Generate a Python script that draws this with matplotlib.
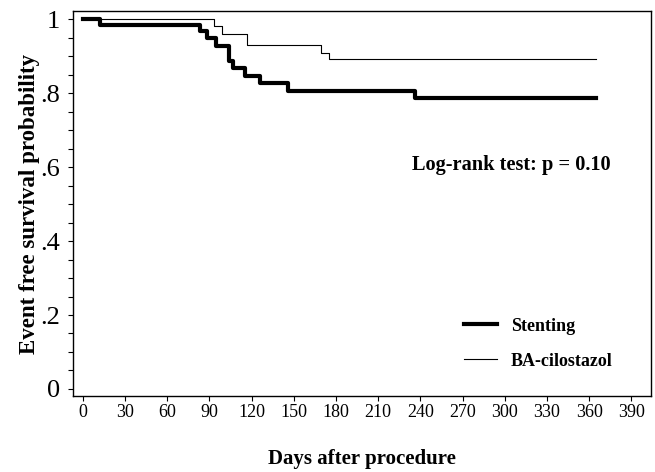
import matplotlib
matplotlib.use("Agg")
import matplotlib.pyplot as plt
from matplotlib.ticker import MultipleLocator

# Data
stent_days = [0, 12, 83, 88, 95, 104, 107, 115, 126, 146, 236, 365]
stent_surv = [1.0, 0.985, 0.967, 0.948, 0.927, 0.886, 0.868, 0.846, 0.826, 0.806, 0.787, 0.787]
cilo_days = [0, 93, 99, 117, 169, 175, 365]
cilo_surv = [1.0, 0.981, 0.961, 0.929, 0.909, 0.891, 0.891]
legend_labels = ["Stenting", "BA-cilostazol"]
x_ticks = list(range(0, 391, 30))
y_ticks = [0, 0.2, 0.4, 0.6, 0.8, 1.0]
y_tick_labels = ["0", ".2", ".4", ".6", ".8", "1"]
annotation = "Log-rank test: p = 0.10"

plt.rcParams['font.family'] = ['Liberation Serif', 'DejaVu Serif']

fig = plt.figure(figsize=(6.55, 4.72), dpi=100)
ax = fig.add_axes([73/655, 1-396/472, (651-73)/655, (396-11)/472])

ax.step(stent_days, stent_surv, where='post', color='black', lw=3.0, label=legend_labels[0])
ax.step(cilo_days, cilo_surv, where='post', color='black', lw=0.8, label=legend_labels[1])

ax.set_xlim(-7, 404)
ax.set_ylim(-0.019, 1.022)
ax.set_xticks(x_ticks)
ax.set_xticklabels([str(t) for t in x_ticks], fontsize=13)
ax.set_yticks(y_ticks)
ax.set_yticklabels(y_tick_labels, fontsize=19)
ax.yaxis.set_minor_locator(MultipleLocator(0.05))
ax.tick_params(axis='both', which='both', direction='out', length=3.5, width=0.8)
ax.tick_params(axis='x', pad=2)
ax.tick_params(axis='y', pad=6)
for s in ax.spines.values():
    s.set_linewidth(1.0)

ax.set_xlabel("Days after procedure", fontsize=15, fontweight='bold', labelpad=20.5)
ax.set_ylabel("Event free survival probability", fontsize=16.5, fontweight='bold', labelpad=0)

ax.text(234, 0.606, annotation, fontsize=14.7, fontweight='bold', va='center', ha='left')

leg = ax.legend(loc='upper left', bbox_to_anchor=(0.661, 0.227), frameon=False,
                prop={'size': 13, 'weight': 'bold'}, handlelength=1.8, labelspacing=1.0,
                handletextpad=0.8, borderpad=0)

fig.savefig("out.png", dpi=100)
